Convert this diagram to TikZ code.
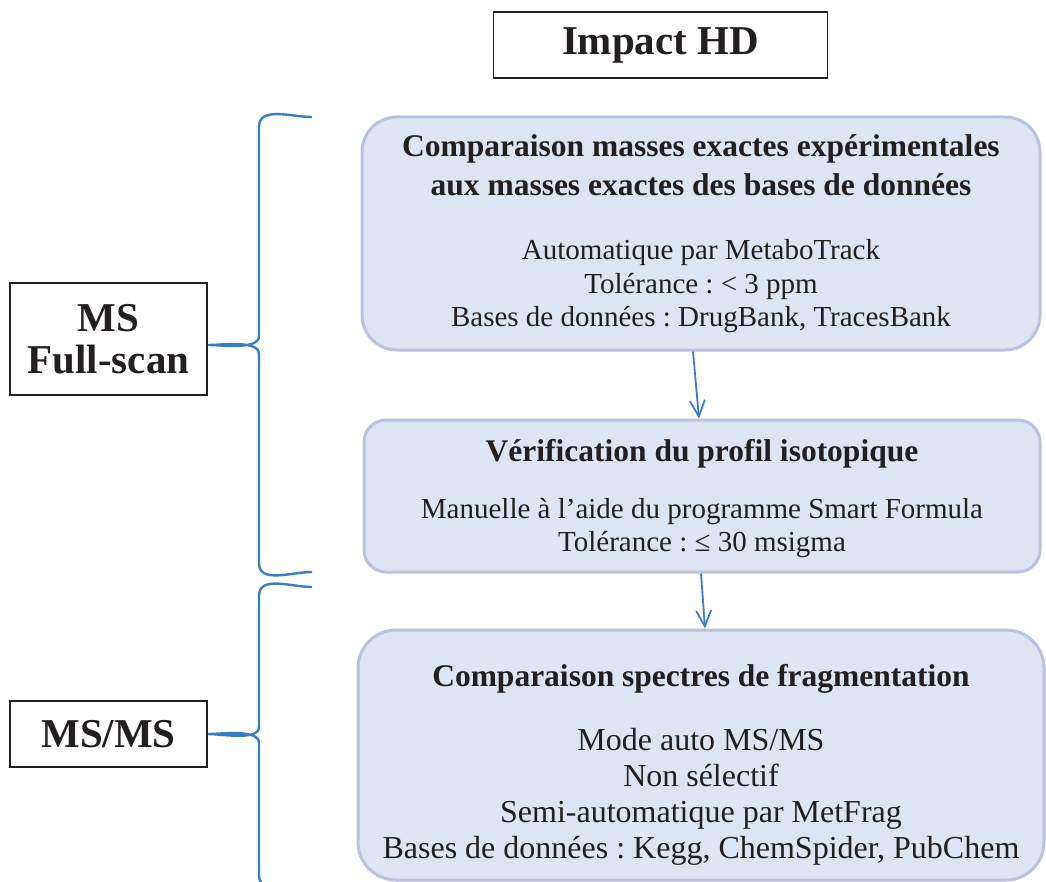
\documentclass[tikz,border=0pt]{standalone}
\usepackage{fontspec}
\setmainfont{Liberation Serif}
\usetikzlibrary{arrows.meta}
\definecolor{boxfill}{RGB}{221,228,242}
\definecolor{boxline}{RGB}{186,194,221}
\definecolor{conn}{RGB}{58,124,198}
\definecolor{ink}{RGB}{35,31,32}
\newcommand\fixspace{\spaceskip=\fontdimen2\font\xspaceskip=\fontdimen2\font}
\newcommand\boxhead{\fontsize{31.5}{39}\selectfont\bfseries\fixspace}
\newcommand\boxbody{\fontsize{29}{33.5}\selectfont\mdseries\fixspace}
\newcommand\boxbodyl{\fontsize{32}{36}\selectfont\mdseries\fixspace}
\begin{document}
\begin{tikzpicture}[x=1pt, y=1pt, >={Straight Barb[length=16pt, width=15pt]}, text=ink,
  st/.style={draw=boxline, fill=boxfill, line width=3pt, align=center, text width=670pt, inner sep=0pt},
  lbl/.style={draw=ink, line width=1.6pt, align=center, inner sep=0pt, font=\fontsize{41}{42}\selectfont\bfseries},
  brc/.style={draw=conn, line width=2.4pt},
  lnk/.style={->, draw=conn, line width=1.8pt}]
\useasboundingbox (0,0) rectangle (1046,-882);
\node[lbl, minimum width=334, minimum height=66] (hd) at (660.5,-45) {Impact HD};
\node[lbl, minimum width=197, minimum height=112] (fs) at (108.5,-339) {MS\\Full-scan};
\node[lbl, minimum width=197, minimum height=66] (msms) at (108.5,-734) {MS/MS};
\node[st, rounded corners=35pt, minimum width=678, minimum height=233] (cmp) at (701,-233.5)
  {\boxhead Comparaison masses exactes expérimentales\\aux masses exactes des bases de données\\[31pt]
   \boxbody Automatique par MetaboTrack\\Tolérance : < 3 ppm\\Bases de données : DrugBank, TracesBank\par};
\node[st, rounded corners=22pt, minimum width=676, minimum height=152] (iso) at (702,-496)
  {\boxhead Vérification du profil isotopique\\[23.5pt]
   \boxbody Manuelle à l’aide du programme Smart Formula\\Tolérance : ≤ 30 msigma\par\vspace*{-5pt}};
\node[st, rounded corners=38pt, minimum width=686, minimum height=250] (frag) at (701,-755)
  {\boxhead Comparaison spectres de fragmentation\\[28pt]
   \boxbodyl Mode auto MS/MS\\Non sélectif\\Semi-automatique par MetFrag\\Bases de données : Kegg, ChemSpider, PubChem\par\vspace*{-19pt}};
\draw[lnk] ([xshift=-8]cmp.south) -- ([xshift=-3]iso.north);
\draw[lnk] ([xshift=-1]iso.south) -- ([xshift=4]frag.north);
% accolades
\draw[brc] (312,-117) to[out=180, in=90] (259,-127) -- (259,-336) to[out=-90, in=0, looseness=0.7] ([yshift=-6]fs.east)
  to[out=0, in=90, looseness=0.7] (259,-354) -- (259,-563) to[out=-90, in=180] (312,-572);
\draw[brc] (312,-587) to[out=180, in=90] (259,-596) -- (259,-727) to[out=-90, in=0, looseness=0.7] (msms.east)
  to[out=0, in=90, looseness=0.7] (259,-743) -- (259,-875) to[out=-90, in=180] (312,-884);
\end{tikzpicture}
\end{document}
